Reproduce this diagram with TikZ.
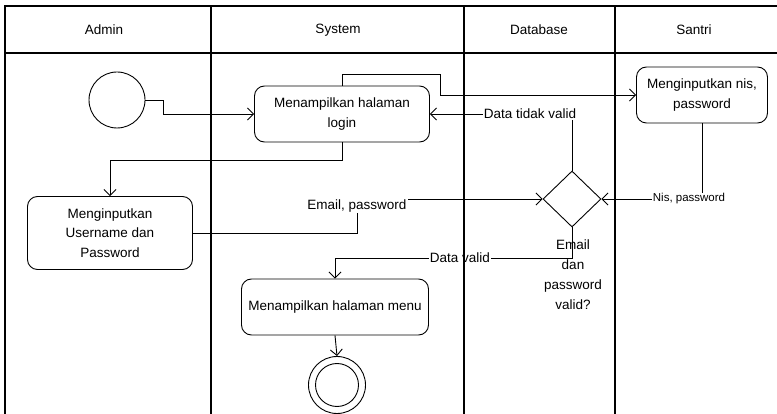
\documentclass[tikz,border=0pt]{standalone}
\usepackage{fontspec}
\setmainfont{Liberation Sans}
\usetikzlibrary{arrows.meta,shapes.geometric}

\begin{document}
\begin{tikzpicture}[x=1pt,y=-1pt,line width=0.9pt,
    font=\fontsize{13.5}{19.5}\selectfont,
    act/.style={draw,rounded corners=10pt,align=center,inner sep=0pt},
    flow/.style={-{Straight Barb[length=6pt,width=12pt]}},
    lbl/.style={fill=white,inner sep=1pt}]
\useasboundingbox (0,0) rectangle (777,414);

\node[draw,circle,minimum size=56pt,inner sep=0pt] (start) at (117,100) {};
\node[act,minimum width=175pt,minimum height=56pt] (login) at (342,114) {Menampilkan halaman\\login};
\node[act,minimum width=131pt,minimum height=56pt] (nis) at (702,95) {Menginputkan nis,\\password};
\node[act,minimum width=165pt,minimum height=73pt] (adm) at (110,233) {Menginputkan\\Username dan\\Password};
\node[draw,diamond,minimum width=58pt,minimum height=56pt,inner sep=0pt] (dec) at (572,199) {};
\node[align=center,font=\fontsize{13.5}{20}\selectfont] (cond) at (573,275) {Email\\dan\\password\\valid?};
\node[act,minimum width=187pt,minimum height=56pt] (menu) at (335,307) {Menampilkan halaman menu};
\node[draw,circle,minimum size=57pt,inner sep=0pt] (fin) at (337,385) {};
\draw (fin.center) circle[radius=21.5pt];

\draw[flow] (start.east) -- (163,100) |- (login.west);
\draw[flow] (login.north) |- (440,74) |- (nis.west);
\draw[flow] (login.south) -- (342,160) -| (adm.north);
\draw[flow] (adm.east) -| (357,199) -- (dec.west);
\node[lbl] (l1) at (357,206) {Email, password};
\draw[flow] (nis.south) |- (dec.east);
\node[lbl,font=\fontsize{11.5}{14}\selectfont] (l2) at (689,199) {Nis, password};
\draw[flow] (dec.north) |- (login.east);
\node[lbl] (l3) at (530,114) {Data tidak valid};
\draw[flow] (dec.south) |- (335,258) -| (menu.north);
\node[lbl] (l4) at (460,258) {Data valid};
\draw[flow] (menu.south) -- (fin.north);

\draw[line width=1.2pt] (777,6) -- (5,6) -- (5,414);
\draw[line width=1.2pt] (5,53) -- (777,53);
\foreach \x in {211,464,615} \draw[line width=1.2pt] (\x,6) -- (\x,414);
\node (h1) at (104,30) {Admin};
\node (h2) at (338,30) {System};
\node (h3) at (539,30) {Database};
\node (h4) at (694,30) {Santri};
\end{tikzpicture}
\end{document}
